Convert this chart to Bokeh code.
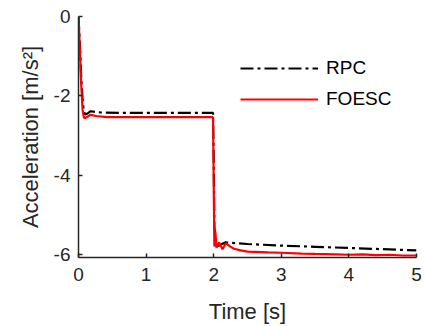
from bokeh.plotting import figure
from bokeh.models import FixedTicker, Range1d
from bokeh.embed import file_html
from bokeh.resources import INLINE

# Time samples and acceleration responses [m/s^2]
t_rpc = [0.0, 0.02, 0.04, 0.06, 0.08, 0.1, 0.14, 0.18, 0.3, 0.6, 1.0, 1.5, 1.99,
         2.0, 2.01, 2.03, 2.06, 2.1, 2.17, 2.5, 3.0, 3.5, 4.0, 4.5, 5.0]
a_rpc = [0.0, -0.7, -1.5, -2.1, -2.4, -2.47, -2.44, -2.39, -2.42, -2.43, -2.43, -2.43, -2.43,
         -3.5, -5.3, -5.75, -5.8, -5.76, -5.7, -5.74, -5.78, -5.81, -5.84, -5.87, -5.9]

t_foesc = [0.0, 0.02, 0.04, 0.06, 0.08, 0.1, 0.14, 0.18, 0.26, 0.42, 1.0, 1.5, 1.99,
           2.0, 2.01, 2.025, 2.04, 2.08, 2.13, 2.18, 2.24, 2.3, 2.4, 2.5, 2.8, 3.0,
           3.3, 3.5, 3.8, 4.0, 4.2, 4.4, 4.6, 4.8, 5.0]
a_foesc = [0.0, -0.8, -1.7, -2.35, -2.55, -2.56, -2.52, -2.48, -2.51, -2.54, -2.54, -2.54, -2.54,
           -4.2, -5.8, -5.43, -5.83, -5.7, -5.87, -5.72, -5.8, -5.86, -5.9, -5.93, -5.95, -5.96,
           -5.98, -5.99, -6.0, -6.01, -6.0, -6.02, -6.01, -6.03, -6.03]

x_ticks = [0, 1, 2, 3, 4, 5]
y_ticks = [-6, -4, -2, 0]

FONT = "Liberation Sans"
AX = "#262626"

p = figure(width=425, height=326, output_backend="svg", toolbar_location=None,
           x_range=Range1d(0, 5), y_range=Range1d(-6.08, 0),
           min_border_left=78, min_border_right=9, min_border_top=16, min_border_bottom=68)
p.outline_line_color = None
p.grid.visible = False
p.background_fill_color = "white"

p.line(t_rpc, a_rpc, line_color="black", line_width=2.2, line_dash="13 4 3 4",
       legend_label="RPC")
p.line(t_foesc, a_foesc, line_color="#ff0000", line_width=2.2, legend_label="FOESC")

for ax, ticks in ((p.xaxis[0], x_ticks), (p.yaxis[0], y_ticks)):
    ax.ticker = FixedTicker(ticks=ticks)
    ax.major_label_overrides = {v: str(v) for v in ticks}
    ax.minor_tick_line_color = None
    ax.major_tick_in = 4
    ax.major_tick_out = 0
    ax.axis_line_color = AX
    ax.axis_line_width = 1.5
    ax.major_tick_line_color = AX
    ax.major_tick_line_width = 1.5
    ax.major_label_text_font = FONT
    ax.major_label_text_font_size = "19px"
    ax.major_label_text_color = AX
    ax.axis_label_text_font = FONT
    ax.axis_label_text_font_size = "22px"
    ax.axis_label_text_font_style = "normal"
    ax.axis_label_text_color = AX

p.xaxis.axis_label = "Time [s]"
p.yaxis.axis_label = "Acceleration [m/s²]"
p.xaxis.major_label_standoff = 10
p.yaxis.major_label_standoff = 8
p.xaxis.axis_label_standoff = 15
p.yaxis.axis_label_standoff = 8

lg = p.legend[0]
lg.location = (162, 147)
lg.margin = 0
lg.padding = 0
lg.spacing = 9
lg.glyph_width = 78
lg.glyph_height = 20
lg.label_height = 20
lg.label_standoff = 8
lg.label_text_font = FONT
lg.label_text_font_size = "19px"
lg.label_text_color = "black"
lg.border_line_color = None
lg.background_fill_alpha = 0

open("out.html", "w").write(file_html(p, INLINE))
